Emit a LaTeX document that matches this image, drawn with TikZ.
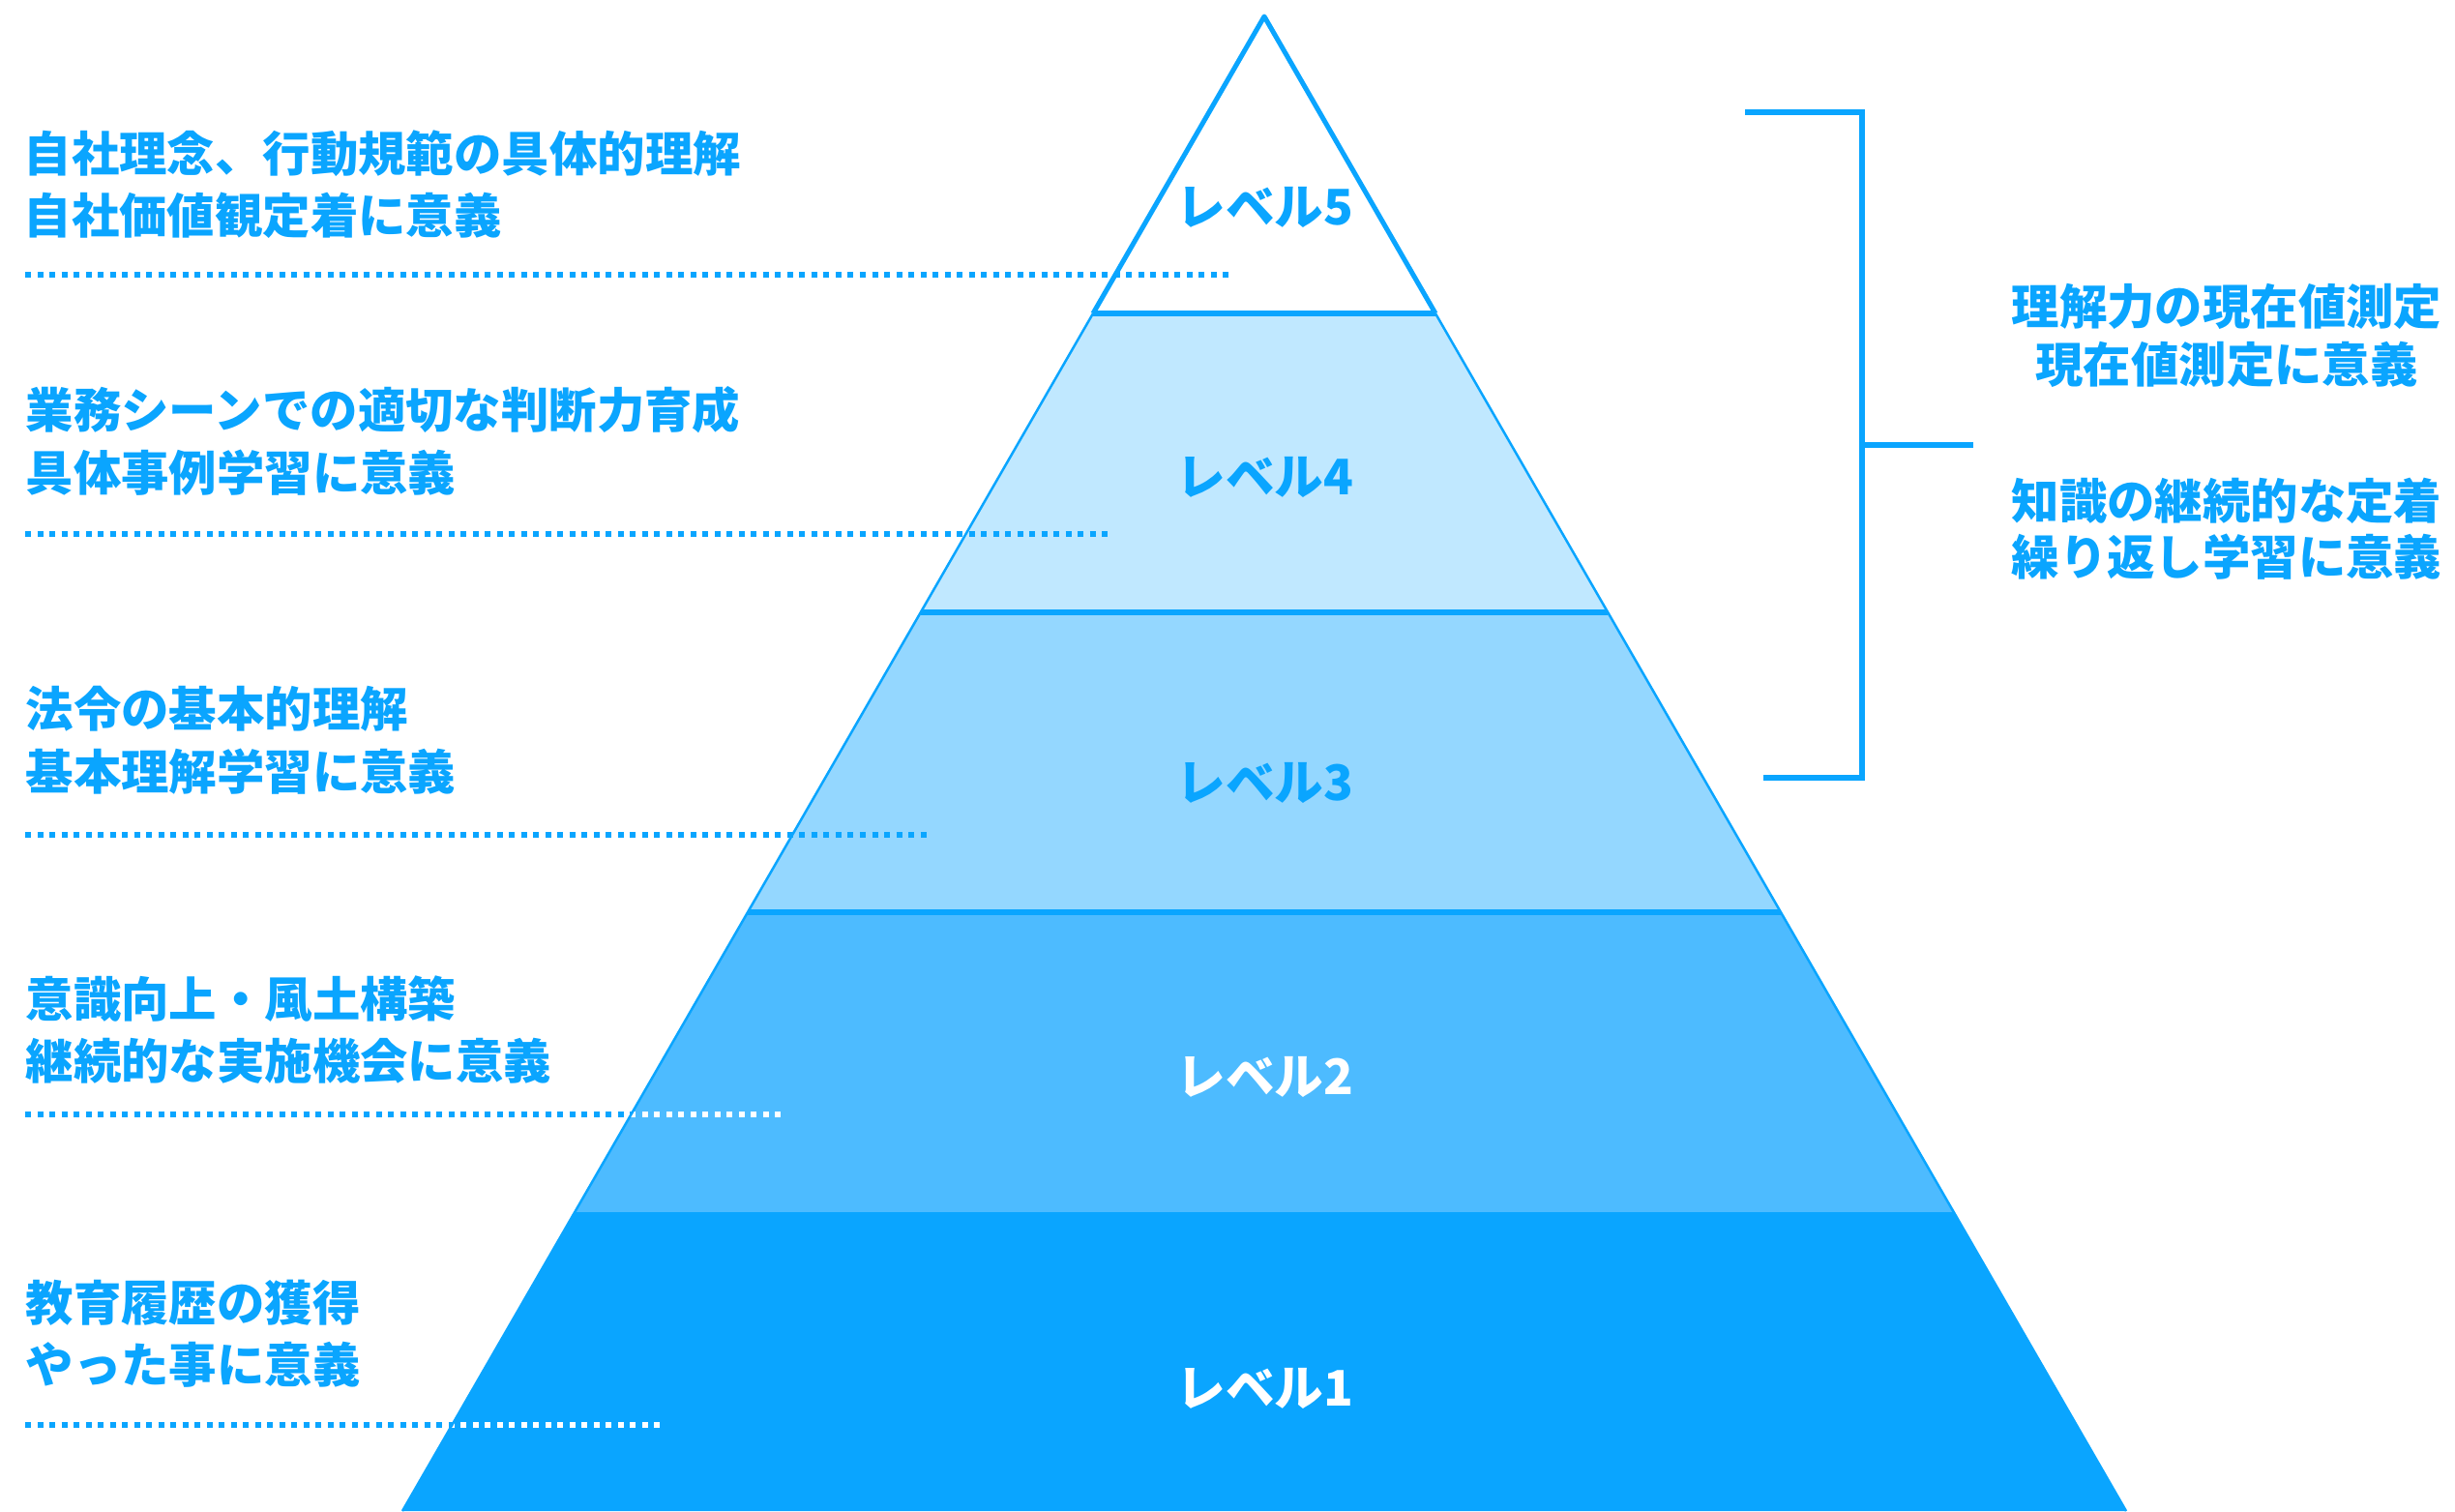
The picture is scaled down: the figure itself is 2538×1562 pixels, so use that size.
\documentclass[tikz,border=0pt]{standalone}
\usepackage{fontspec}
\setmainfont{Noto Sans CJK JP}
\definecolor{pblue}{HTML}{0AA5FF}
\definecolor{lvfour}{HTML}{C0E8FF}
\definecolor{lvthree}{HTML}{94D7FF}
\definecolor{lvtwo}{HTML}{4DBBFF}
\definecolor{lvone}{HTML}{0AA5FF}
\begin{document}
\begin{tikzpicture}[x=0.01cm,y=-0.01cm,
  txt/.style={font=\fontsize{14.05pt}{18pt}\selectfont\bfseries, text=pblue, inner sep=0pt},
  leftline/.style={txt, anchor=base west},
  rightline/.style={txt, anchor=base},
  lvl/.style={txt, anchor=base, font=\fontsize{14.4pt}{18pt}\selectfont\bfseries},
  sepline/.style={draw=pblue, line width=0.06cm},
  dots/.style={draw=pblue, line width=0.06cm, dash pattern=on 0.06cm off 0.065cm},
  wdots/.style={dots, draw=white},
  bracket/.style={draw=pblue, line width=0.06cm, line join=miter}
]
\useasboundingbox (0,0) rectangle (2538,1562);
\fill[white] (0,0) rectangle (2538,1562);

% pyramid corners
\coordinate (apex) at (1307,17);
\coordinate (a5l) at (1130,324);   \coordinate (a5r) at (1484,324);
\coordinate (a4l) at (951.8,633);  \coordinate (a4r) at (1662.2,633);
\coordinate (a3l) at (773,943);    \coordinate (a3r) at (1841,943);
\coordinate (a2l) at (594.2,1253); \coordinate (a2r) at (2019.8,1253);
\coordinate (a1l) at (416,1562);   \coordinate (a1r) at (2198,1562);

% band fills
\fill[lvfour]  (a5l) -- (a5r) -- (a4r) -- (a4l) -- cycle;
\fill[lvthree] (a4l) -- (a4r) -- (a3r) -- (a3l) -- cycle;
\fill[lvtwo]   (a3l) -- (a3r) -- (a2r) -- (a2l) -- cycle;
\fill[lvone]   (a2l) -- (a2r) -- (a1r) -- (a1l) -- cycle;

% dotted leader lines
\coordinate (d1s) at (26,284);  \coordinate (d1e) at (1271,284);
\coordinate (d2s) at (26,552);  \coordinate (d2e) at (1146,552);
\coordinate (d3s) at (26,863);  \coordinate (d3e) at (963,863);
\coordinate (d4s) at (26,1152); \coordinate (d4e) at (808,1152);
\coordinate (d5s) at (26,1473); \coordinate (d5e) at (686,1473);
\draw[dots] (d1s) -- (d1e);
\draw[dots] (d2s) -- (d2e);
\draw[dots] (d3s) -- (d3e);
\draw[dots] (d4s) -- (d4e);
\draw[dots] (d5s) -- (d5e);
\begin{scope}
  \clip (a3l) -- (a3r) -- (a1r) -- (a1l) -- cycle;
  \draw[wdots] (d4s) -- (d4e);
  \draw[wdots] (d5s) -- (d5e);
\end{scope}

% outlines and separators
\draw[draw=pblue, line width=0.025cm] (a5l) -- (a1l);
\draw[draw=pblue, line width=0.025cm] (a5r) -- (a1r);
\draw[draw=pblue, line width=0.05cm, line join=round] (a5l) -- (apex) -- (a5r);
\draw[sepline] (a5l) -- (a5r);
\draw[sepline] (a4l) -- (a4r);
\draw[sepline] (a3l) -- (a3r);

% level labels
\node[lvl] (lv5) at (1308,232) {レベル5};
\node[lvl] (lv4) at (1308,511) {レベル4};
\node[lvl] (lv3) at (1308,827) {レベル3};
\node[lvl, text=white] (lv2) at (1308,1131) {レベル2};
\node[lvl, text=white] (lv1) at (1308,1453) {レベル1};

% left descriptions
\node[leftline] (t1a) at (24,177) {自社理念、行動規範の具体的理解};
\node[leftline] (t1b) at (24,241) {自社価値観定着に意義};
\node[leftline] (t2a) at (26,442) {業務シーンでの適切な判断力育成};
\node[leftline] (t2b) at (26,507) {具体事例学習に意義};
\node[leftline] (t3a) at (26,751) {法令の基本的理解};
\node[leftline] (t3b) at (26,816) {基本理解学習に意義};
\node[leftline] (t4a) at (26,1051) {意識向上・風土構築};
\node[leftline] (t4b) at (26,1115) {継続的な実施機会に意義};
\node[leftline] (t5a) at (26,1365) {教育履歴の獲得};
\node[leftline] (t5b) at (26,1429) {やった事に意義};

% bracket
\coordinate (bt) at (1804,116);  \coordinate (btc) at (1925,116);
\coordinate (bbc) at (1925,804); \coordinate (bb) at (1823,804);
\coordinate (bm) at (1925,460);  \coordinate (bme) at (2040,460);
\draw[bracket] (bt) -- (btc) -- (bbc) -- (bb);
\draw[bracket] (bm) -- (bme);

% right descriptions
\node[rightline] (r1a) at (2302,335) {理解力の現在値測定};
\node[rightline] (r1b) at (2302,395) {現在値測定に意義};
\node[rightline] (r2a) at (2302,536) {知識の継続的な定着};
\node[rightline] (r2b) at (2302,594) {繰り返し学習に意義};
\end{tikzpicture}
\end{document}
